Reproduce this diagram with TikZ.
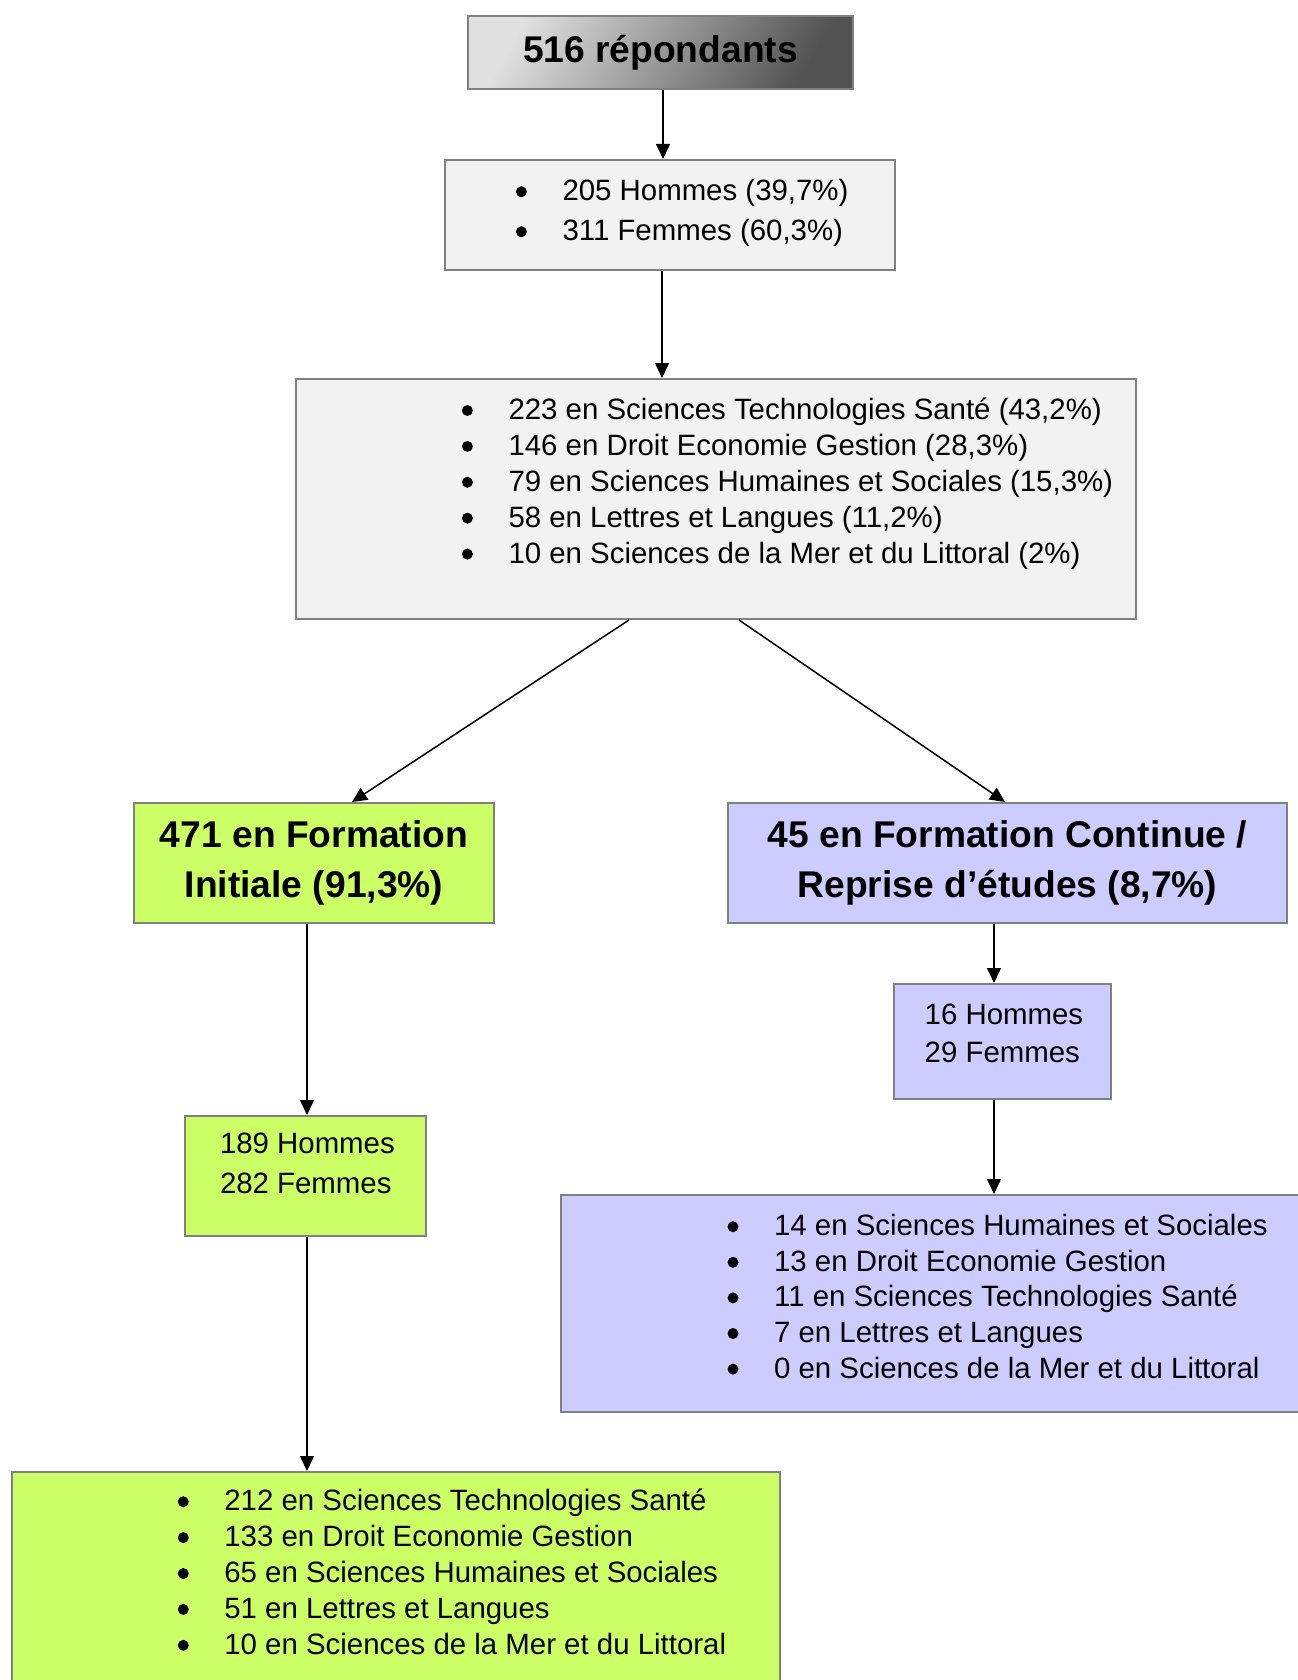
\documentclass[tikz,border=0pt]{standalone}
\usepackage{fontspec}
\setmainfont{Liberation Sans}
\usetikzlibrary{arrows.meta}
\definecolor{boxgray}{HTML}{F2F2F2}
\definecolor{boxgreen}{HTML}{CCFF66}
\definecolor{boxblue}{HTML}{CCCCFF}
\definecolor{edgegray}{HTML}{808080}
\newcommand\blt{\makebox[5.1pt][c]{\tikz[baseline=0pt]\fill[black] (0pt,4.5pt) circle (2.75pt);}}
\begin{document}
\begin{tikzpicture}[x=0.5pt,y=-0.5pt,
  box/.style={draw=edgegray, line width=1pt, inner sep=0pt, rectangle},
  arr/.style={line width=0.75pt, -{Triangle[length=7.5pt,width=7pt]}},
  head/.style={font=\bfseries\fontsize{18.6pt}{24.65pt}\selectfont, align=center},
  lst/.style={inner sep=0pt, anchor=base west}]
\useasboundingbox (0,0) rectangle (1297,1680);
% boxes
\node[box, left color=black!12, right color=black!68, shading angle=60, minimum width=192.5pt, minimum height=36.5pt,
      font=\bfseries\fontsize{18.6pt}{22pt}\selectfont] (b0) at (660.5,52.5) {516 répondants};
\node[box, fill=boxgray, minimum width=225pt, minimum height=55pt] (b1) at (670,215) {};
\node[box, fill=boxgray, minimum width=420pt, minimum height=120pt] (b2) at (716,499) {};
\node[box, fill=boxgreen, minimum width=180pt, minimum height=60pt, head] (gi) at (314,863) {471 en Formation\\Initiale (91,3\%)};
\node[box, fill=boxblue, minimum width=279.5pt, minimum height=60pt, head] (fc) at (1007.5,863) {45 en Formation Continue /\\Reprise d’études (8,7\%)};
\node[box, fill=boxgreen, minimum width=120.5pt, minimum height=60pt] (gs) at (305.5,1176) {};
\node[box, fill=boxblue, minimum width=108.5pt, minimum height=57.5pt] (bs) at (1002.5,1041.5) {};
\node[box, fill=boxblue, minimum width=372pt, minimum height=108.5pt] (bl) at (933,1303.5) {};
\node[box, fill=boxgreen, minimum width=384pt, minimum height=109pt] (gl) at (396,1581) {};
% texts
\node[lst, font=\fontsize{14.7pt}{20pt}\selectfont] (t1) at (515.9,200.7) {\begin{tabular}[t]{@{}l@{\hspace{18pt}}l@{}}\blt & 205 Hommes (39,7\%)\\ \blt & 311 Femmes (60,3\%)\end{tabular}};
\node[lst, font=\fontsize{14.7pt}{17.95pt}\selectfont] (t2) at (461.9,419.5) {\begin{tabular}[t]{@{}l@{\hspace{18pt}}l@{}}\blt & 223 en Sciences Technologies Santé (43,2\%)\\ \blt & 146 en Droit Economie Gestion (28,3\%)\\ \blt & 79 en Sciences Humaines et Sociales (15,3\%)\\ \blt & 58 en Lettres et Langues (11,2\%)\\ \blt & 10 en Sciences de la Mer et du Littoral (2\%)\end{tabular}};
\node[lst, font=\fontsize{14.7pt}{20pt}\selectfont] (tgs) at (219.6,1153) {\begin{tabular}[t]{@{}l@{}}189 Hommes\\282 Femmes\end{tabular}};
\node[lst, font=\fontsize{14.7pt}{19pt}\selectfont] (tbs) at (924.3,1024) {\begin{tabular}[t]{@{}l@{}}16 Hommes\\29 Femmes\end{tabular}};
\node[lst, font=\fontsize{14.7pt}{17.8pt}\selectfont] (tbl) at (727.5,1235.7) {\begin{tabular}[t]{@{}l@{\hspace{18pt}}l@{}}\blt & 14 en Sciences Humaines et Sociales\\ \blt & 13 en Droit Economie Gestion\\ \blt & 11 en Sciences Technologies Santé\\ \blt & 7 en Lettres et Langues\\ \blt & 0 en Sciences de la Mer et du Littoral\end{tabular}};
\node[lst, font=\fontsize{14.7pt}{17.95pt}\selectfont] (tgl) at (177.8,1510.7) {\begin{tabular}[t]{@{}l@{\hspace{18pt}}l@{}}\blt & 212 en Sciences Technologies Santé\\ \blt & 133 en Droit Economie Gestion\\ \blt & 65 en Sciences Humaines et Sociales\\ \blt & 51 en Lettres et Langues\\ \blt & 10 en Sciences de la Mer et du Littoral\end{tabular}};
% connector x positions
\coordinate (x0) at (663,0);
\coordinate (x1) at (662,0);
\coordinate (xl1) at (629,0);
\coordinate (xl2) at (352,0);
\coordinate (xr1) at (739,0);
\coordinate (xr2) at (1005,0);
\coordinate (xg) at (307,0);
\coordinate (xb) at (994,0);
% connectors
\draw[arr] (b0.south -| x0) -- (b1.north -| x0);
\draw[arr] (b1.south -| x1) -- (b2.north -| x1);
\draw[arr] (b2.south -| xl1) -- (gi.north -| xl2);
\draw[arr] (b2.south -| xr1) -- (fc.north -| xr2);
\draw[arr] (gi.south -| xg) -- (gs.north -| xg);
\draw[arr] (gs.south -| xg) -- (gl.north -| xg);
\draw[arr] (fc.south -| xb) -- (bs.north -| xb);
\draw[arr] (bs.south -| xb) -- (bl.north -| xb);
\end{tikzpicture}
\end{document}
